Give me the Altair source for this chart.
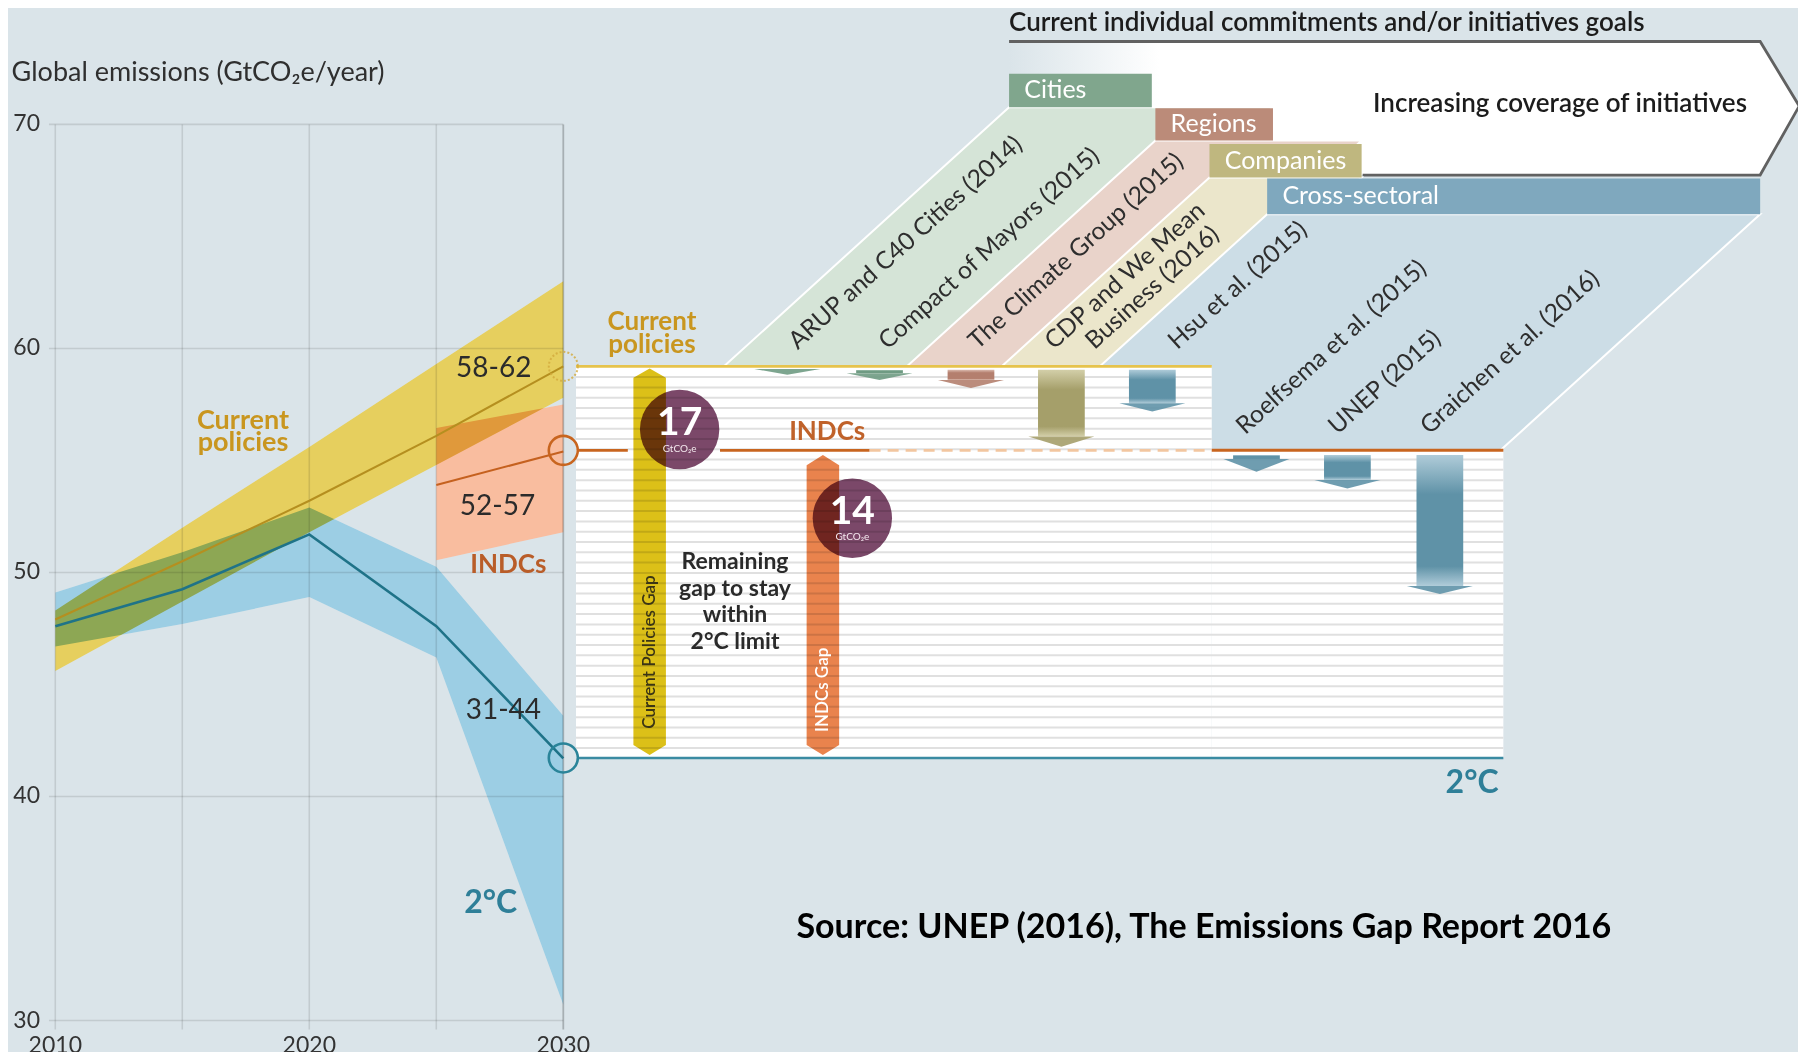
import altair as alt
import numpy as np
import pandas as pd

BG = "#dae4e9"
FONT = "Lato"

# ---------------- left panel: emission pathways (GtCO2e/year) ----------------
years = [2010, 2015, 2020, 2025, 2030]
cp_low = [45.6, 48.7, 51.8, 54.8, 57.8]
cp_high = [48.3, 52.0, 55.6, 59.3, 63.0]
cp_mid = [47.9, 50.5, 53.2, 56.1, 59.2]
t2_low = [46.7, 47.7, 48.9, 46.2, 30.7]
t2_high = [49.1, 50.9, 52.9, 50.25, 43.6]
t2_mid = [47.6, 49.25, 51.7, 47.6, 41.7]
indc_years = [2025, 2030]
indc_low = [50.55, 51.8]
indc_high = [56.45, 57.5]
indc_mid = [53.9, 55.4]

y_ticks = [30, 40, 50, 60, 70]
x_ticks = [2010, 2020, 2030]
x_grid = [2010, 2015, 2020, 2025, 2030]

cp_2030 = 59.2
indc_2030 = 55.45
t2_2030 = 41.72

# ---------------- right panel: initiatives ----------------
gap_end_cp = 2055.53      # end of the current-policies level
gap_end_all = 2067.01     # end of the INDC / 2 C levels
panel_start = 2030.5

cat_names = ["Cities", "Regions", "Companies", "Cross-sectoral"]
cat_x0 = [2047.55, 2053.31, 2055.44, 2057.71]
cat_x1 = [2053.17, 2057.94, 2061.43, 2077.12]
cat_ytop = [72.26, 70.72, 69.13, 67.58]
cat_ybot = [70.77, 69.28, 67.63, 65.99]
cat_box_color = ["#80a68d", "#bb8b79", "#bfb77f", "#7fa8be"]
cat_band_color = ["#d5e4d7", "#e9d3ca", "#ebe6cb", "#ccdde6"]
band_right_top = [2057.94, 2061.43, 2061.43, 2077.12]
band_bottom = [59.20, 59.20, 59.20, 55.45]
SLANT = 0.970   # years per GtCO2e of the slanted bands

arr_names = ["ARUP and C40 Cities", "Compact of Mayors", "The Climate Group", "CDP and We Mean Business",
             "Hsu et al.", "Roelfsema et al.", "UNEP", "Graichen et al."]
arr_x = [2038.82, 2042.45, 2046.05, 2049.61, 2053.19, 2057.29, 2060.87, 2064.51]
arr_top = [59.08, 59.04, 59.05, 59.05, 59.05, 55.24, 55.24, 55.24]
arr_shoulder = [59.08, 58.89, 58.59, 56.07, 57.55, 55.06, 54.13, 49.40]
arr_tip = [58.83, 58.59, 58.23, 55.61, 57.18, 54.50, 53.75, 49.04]
arr_group = ["green", "green", "pink", "khaki", "blue", "blue", "blue", "blue"]
group_light = {"green": "#b3cdbd", "pink": "#dcbcb0", "khaki": "#d3cfa9", "blue": "#b0ccd9"}
group_solid = {"green": "#6f9b83", "pink": "#b47f6e", "khaki": "#a59f6a", "blue": "#5f92a7"}

rot_labels = ["ARUP and C40 Cities (2014)", "Compact of Mayors (2015)", "The Climate Group (2015)",
              "CDP and We Mean", "Business (2016)", "Hsu et al. (2015)",
              "Roelfsema et al. (2015)", "UNEP (2015)", "Graichen et al. (2016)"]
rot_x = [2039.23, 2042.77, 2046.31, 2049.32, 2050.91, 2054.17, 2056.85, 2060.48, 2064.10]
rot_y = [59.92, 59.92, 59.92, 59.92, 59.92, 59.92, 56.13, 56.13, 56.13]

gap_names = ["Current Policies Gap", "INDCs Gap"]
gap_x = [2033.40, 2040.22]
gap_top = [59.10, 55.24]
gap_sh_top = [58.69, 54.79]
gap_sh_bot = [42.30, 42.30]
gap_bot = [41.85, 41.85]
gap_colors = ["#dcc018", "#e9834d"]
gap_text_y = [46.45, 44.76]
gap_text_color = ["#3b3515", "#ffffff"]

gap_values = ["17", "14"]
gap_circle_x = [2034.58, 2041.38]
gap_circle_y = [56.38, 52.42]

# ---------------- scales ----------------
xsc = alt.Scale(domain=[2008.138, 2078.61], nice=False, zero=False)
ysc = alt.Scale(domain=[28.594, 75.196], nice=False, zero=False)


def X(f="x"):
    return alt.X(f"{f}:Q", scale=xsc, axis=None)


def Y(f="y"):
    return alt.Y(f"{f}:Q", scale=ysc, axis=None)


def vband(xs, lo, hi, **kw):
    df = pd.DataFrame({"x": xs, "y": lo, "y2": hi})
    return alt.Chart(df).mark_area(**kw).encode(x=X(), y=Y(), y2=alt.Y2("y2:Q"))


def hpoly(ys, xl, xr, **kw):
    df = pd.DataFrame({"y": ys, "x": xl, "x2": xr})
    return alt.Chart(df).mark_area(orient="horizontal", **kw).encode(y=Y(), x=X(), x2=alt.X2("x2:Q"))


def hrules(ys, x0, x1, **kw):
    df = pd.DataFrame({"y": ys, "x": x0, "x2": x1})
    return alt.Chart(df).mark_rule(**kw).encode(y=Y(), x=X(), x2=alt.X2("x2:Q"))


def vrules(xs, y0, y1, **kw):
    df = pd.DataFrame({"x": xs, "y": y0, "y2": y1})
    return alt.Chart(df).mark_rule(**kw).encode(x=X(), y=Y(), y2=alt.Y2("y2:Q"))


def rects(x0, x1, y0, y1, **kw):
    df = pd.DataFrame({"x": x0, "x2": x1, "y": y0, "y2": y1})
    return alt.Chart(df).mark_rect(**kw).encode(x=X(), x2=alt.X2("x2:Q"), y=Y(), y2=alt.Y2("y2:Q"))


def line(xs, ys, **kw):
    df = pd.DataFrame({"x": xs, "y": ys, "o": list(range(len(xs)))})
    return alt.Chart(df).mark_line(**kw).encode(x=X(), y=Y(), order="o:Q")


def texts(xs, ys, labels, size, color, weight="normal", align="center", baseline="middle", angle=None,
          line_height=None):
    df = pd.DataFrame({"x": xs, "y": ys, "t": labels})
    kw = dict(fontSize=size, color=color, fontWeight=weight, align=align, baseline=baseline, font=FONT)
    if angle is not None:
        kw["angle"] = angle
    if line_height is not None:
        kw["lineBreak"] = "\n"
        kw["lineHeight"] = line_height
    return alt.Chart(df).mark_text(**kw).encode(x=X(), y=Y(), text="t:N")


def points(xs, ys, **kw):
    df = pd.DataFrame({"x": xs, "y": ys})
    return alt.Chart(df).mark_point(**kw).encode(x=X(), y=Y())


layers = []

# bands of the left panel: white underlay, then colours multiplied so overlaps darken
layers.append(vband(years, t2_low, t2_high, color="#ffffff"))
layers.append(vband(years, cp_low, cp_high, color="#ffffff"))
layers.append(vband(indc_years, indc_low, indc_high, color="#ffffff"))
layers.append(vband(years, t2_low, t2_high, color="#9ccee4", blend="multiply"))
layers.append(vband(years, cp_low, cp_high, color="#e6cf5e", blend="multiply"))
layers.append(vband(indc_years, indc_low, indc_high, color="#f9bd9f", blend="multiply"))

# grid
layers.append(hrules(y_ticks, [2009.75] * 5, [2030] * 5, color="#e3e3e3", strokeWidth=1.6, blend="multiply"))
layers.append(vrules(x_grid[:-1], [29.6] * 4, [70] * 4, color="#e3e3e3", strokeWidth=1.6, blend="multiply"))
layers.append(vrules([2030], [29.6], [70], color="#c4c4c4", strokeWidth=1.8, blend="multiply"))

# pathway lines
layers.append(line(years, cp_mid, color="#b58f1f", strokeWidth=2))
layers.append(line(indc_years, indc_mid, color="#c5611f", strokeWidth=2))
layers.append(line(years, t2_mid, color="#1f7388", strokeWidth=2.6))

# ---------- header arrow ----------
head_grad = alt.LinearGradient(gradient="linear", x1=0, x2=1, y1=0, y2=0,
                               stops=[alt.GradientStop(color=BG, offset=0),
                                      alt.GradientStop(color="#ffffff", offset=0.19),
                                      alt.GradientStop(color="#ffffff", offset=1)])
layers.append(vband([2047.55, 2077.12, 2078.66], [73.70, 73.70, 70.82], [67.74, 67.74, 70.82], color=head_grad))
layers.append(line([2047.55, 2077.12, 2078.66, 2077.12, 2061.47], [73.70, 73.70, 70.82, 67.74, 67.74],
                   color="#616161", strokeWidth=2.8))

# slanted bands
for i in range(4):
    drop = cat_ybot[i] - band_bottom[i]
    layers.append(hpoly([cat_ybot[i], band_bottom[i]],
                        [cat_x0[i], cat_x0[i] - drop * SLANT],
                        [band_right_top[i], band_right_top[i] - drop * SLANT],
                        color=cat_band_color[i], stroke="#ffffff", strokeWidth=2))
# category boxes
for i in range(4):
    layers.append(rects([cat_x0[i]], [cat_x1[i]], [cat_ytop[i]], [cat_ybot[i]], color=cat_box_color[i]))
layers.append(texts([x + 0.6 for x in cat_x0], [(a + b) / 2 for a, b in zip(cat_ytop, cat_ybot)],
                    cat_names, 25, "#ffffff", align="left"))

layers.append(texts([2047.55], [74.52], ["Current individual commitments and/or initiatives goals"],
                    26, "#1c1c1c", weight=600, align="left"))
layers.append(texts([2061.88], [70.93], ["Increasing coverage of initiatives"],
                    26, "#1c1c1c", weight=600, align="left"))

# ---------- white gap panel ----------
layers.append(rects([panel_start, gap_end_cp], [gap_end_cp, gap_end_all], [cp_2030, indc_2030],
                    [t2_2030, t2_2030], color="#ffffff"))
stripes = np.round(np.arange(t2_2030 + 0.44, cp_2030 - 0.1, 0.46), 2)
hi = [v for v in stripes if v > indc_2030]
lo = [v for v in stripes if v <= indc_2030]
layers.append(hrules(hi, [panel_start] * len(hi), [gap_end_cp] * len(hi), color="#e0e0e0", strokeWidth=2))
layers.append(hrules(lo, [panel_start] * len(lo), [gap_end_all] * len(lo), color="#e0e0e0", strokeWidth=2))

# level lines
layers.append(hrules([cp_2030], [panel_start], [gap_end_cp], color="#e6c34c", strokeWidth=2.6))
layers.append(hrules([indc_2030, indc_2030], [2030.55, 2036.17], [2032.54, 2042.06], color="#c8651f", strokeWidth=2.6))
layers.append(hrules([indc_2030], [2042.06], [gap_end_cp], color="#f2c6a0", strokeWidth=2.6, strokeDash=[11, 7]))
layers.append(hrules([indc_2030], [gap_end_cp], [gap_end_all], color="#c8651f", strokeWidth=3))
layers.append(hrules([t2_2030], [2030.55], [gap_end_all], color="#3a8ba2", strokeWidth=2.6))

# 2030 circles
layers.append(points([2030], [cp_2030], shape="circle", size=841, filled=False, color="#d3aa3c",
                     strokeWidth=2, strokeDash=[2, 2], opacity=0.8))
layers.append(points([2030], [indc_2030], shape="circle", size=841, filled=False, color="#c8651f",
                     strokeWidth=2.6, opacity=1))
layers.append(points([2030], [t2_2030], shape="circle", size=841, filled=False, color="#2a8499",
                     strokeWidth=2.6, opacity=1))

# reduction arrows
for i in range(len(arr_names)):
    g = arr_group[i]
    if arr_shoulder[i] < arr_top[i] - 0.01:
        grad = alt.LinearGradient(gradient="linear", x1=0, x2=0, y1=0, y2=1,
                                  stops=[alt.GradientStop(color=group_light[g], offset=0),
                                         alt.GradientStop(color=group_solid[g], offset=0.3),
                                         alt.GradientStop(color=group_solid[g], offset=0.85),
                                         alt.GradientStop(color=group_light[g], offset=1)])
        layers.append(rects([arr_x[i] - 0.92], [arr_x[i] + 0.92], [arr_top[i]], [arr_shoulder[i]], color=grad))
    layers.append(hpoly([arr_shoulder[i], arr_tip[i]], [arr_x[i] - 1.3, arr_x[i]], [arr_x[i] + 1.3, arr_x[i]],
                        color=group_solid[g], opacity=0.9))

# gap arrows
for i in range(2):
    c = gap_x[i]
    layers.append(hpoly([gap_top[i], gap_sh_top[i], gap_sh_bot[i], gap_bot[i]],
                        [c, c - 0.64, c - 0.64, c], [c, c + 0.64, c + 0.64, c],
                        color=gap_colors[i], blend="multiply"))
    layers.append(texts([c], [gap_text_y[i]], [gap_names[i]], 17, gap_text_color[i], weight=600, angle=270))

layers.append(points(gap_circle_x, gap_circle_y, shape="circle", size=6300, filled=True, color="#7b4869",
                     opacity=1, blend="multiply"))
layers.append(texts(gap_circle_x, [y + 0.3 for y in gap_circle_y], gap_values, 39, "#ffffff", weight="bold"))
layers.append(texts(gap_circle_x, [y - 0.85 for y in gap_circle_y], ["GtCO₂e", "GtCO₂e"], 10, "#f4e8ee"))

# multi-line labels: y is the first line
layers.append(texts([2036.76], [50.46], ["Remaining\ngap to stay\nwithin\n2°C limit"], 23, "#2a2a2a",
                    weight="bold", line_height=26.5))
layers.append(texts([2040.39], [56.27], ["INDCs"], 26, "#c0622a", weight="bold"))
layers.append(texts([2033.49], [61.18], ["Current\npolicies"], 26, "#c9961f", weight="bold", line_height=23))

# slanted labels
layers.append(texts(rot_x, rot_y, rot_labels, 24.5, "#2e2e2e", align="left", baseline="alphabetic", angle=318))

# ---------- left panel texts ----------
layers.append(texts([2008.28], [72.3], ["Global emissions (GtCO₂e/year)"], 27, "#2f2f2f", align="left"))
layers.append(texts([2009.4] * 5, y_ticks, [str(v) for v in y_ticks], 23, "#333333", align="right"))
layers.append(texts(x_ticks, [28.85] * 3, [str(v) for v in x_ticks], 23, "#333333"))
layers.append(texts([2017.39], [56.76], ["Current\npolicies"], 27, "#c9961f", weight="bold", line_height=22))
layers.append(texts([2027.26, 2027.41, 2027.64], [59.07, 52.93, 43.81], ["58-62", "52-57", "31-44"], 28, "#2b2b2b"))
layers.append(texts([2027.84], [50.33], ["INDCs"], 26, "#b95d29", weight="bold"))
layers.append(texts([2027.14, 2065.78], [35.23, 40.59], ["2°C", "2°C"], 32, "#2e7f98", weight="bold"))

# source
layers.append(texts([2055.22], [34.11], ["Source: UNEP (2016), The Emissions Gap Report 2016"], 34, "#000000",
                    weight="bold"))

chart = alt.layer(*layers).properties(
    width=1790, height=1044, padding=0,
    autosize=alt.AutoSizeParams(type="none"), background=BG
).configure_view(stroke=None)

chart.save("out.html", embed_options={"renderer": "svg", "actions": False})
